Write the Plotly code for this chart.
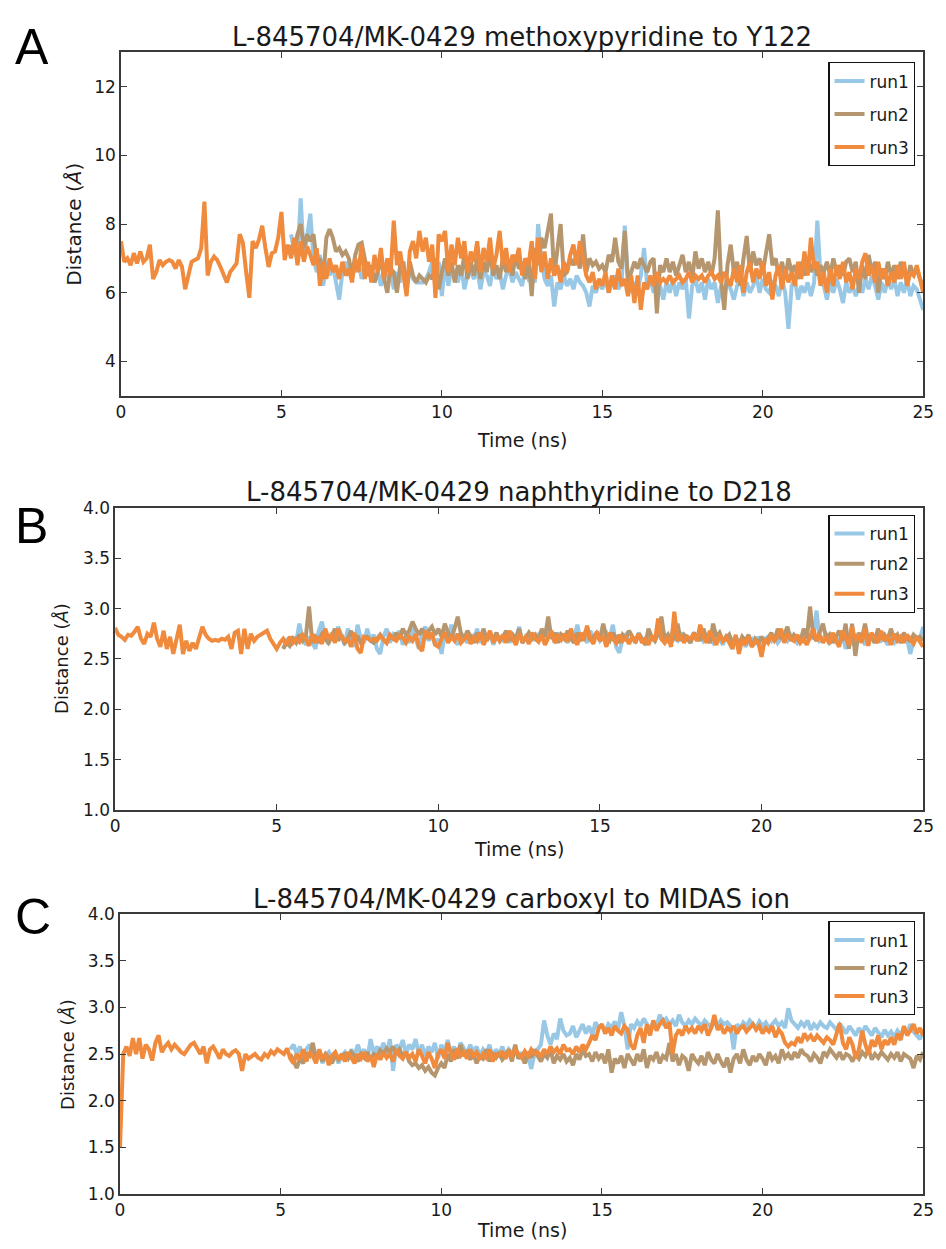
import numpy as np
import plotly.graph_objects as go

# ---------------- data ----------------
STEP = 0.1  # ns between frames
RUN_NAMES = ["run1", "run2", "run3"]
COLORS = ["#98c8e6", "#b5966e", "#f08a3c"]

TITLES = [
    "L-845704/MK-0429 methoxypyridine to Y122",
    "L-845704/MK-0429 naphthyridine to D218",
    "L-845704/MK-0429 carboxyl to MIDAS ion",
]
PANEL_LETTERS = ["A", "B", "C"]
X_TICKS = [0, 5, 10, 15, 20, 25]
Y_TICKS_A = [4, 6, 8, 10, 12]
Y_TICKS_BC = [1.0, 1.5, 2.0, 2.5, 3.0, 3.5, 4.0]

# start time of each run (ns)
START_A = [5.3, 5.3, 0.0]
START_B = [5.2, 5.2, 0.0]
START_C = [5.3, 5.3, 0.0]

# ---- Panel A ----
a_run1 = [7.7, 7.2, 7.0, 8.75, 7.0, 7.6, 8.3,
          7.0, 6.6, 7.1, 6.2, 6.9, 6.5, 6.8, 6.3, 5.8, 6.6,
          6.9, 6.5, 6.8, 6.6, 6.9, 6.4, 6.8, 6.5, 6.7, 6.3,
          6.6, 6.2, 6.8, 6.4, 6.7, 6.1, 6.6, 6.3, 6.8, 6.2,
          6.6, 6.4, 6.3, 6.3, 6.3, 6.4, 6.6, 6.9, 6.2, 6.9,
          5.9, 6.9, 6.2, 6.7, 6.5, 6.3, 6.8, 6.1, 6.5, 6.6,
          6.4, 6.7, 6.1, 6.6, 6.5, 6.2, 6.8, 6.4, 6.6, 6.1,
          6.5, 6.7, 6.3, 6.6, 6.4, 6.2, 6.7, 6.4, 6.5, 6.3,
          8.0, 7.0, 6.4, 6.2, 6.5, 5.6, 6.3, 6.1, 6.5, 6.2,
          6.4, 6.1, 6.5, 6.3, 6.2, 6.0, 5.6, 6.2, 6.0, 6.3,
          6.1, 6.4, 6.0, 6.3, 6.5, 6.1, 6.3, 7.95, 6.4, 6.0,
          6.3, 6.1, 6.5, 7.3, 6.2, 6.4, 6.0, 6.5, 6.2, 5.8,
          6.3, 6.0, 6.4, 5.9, 6.3, 6.1, 6.4, 5.25, 6.2, 6.4,
          6.0, 6.3, 5.8, 6.4, 6.1, 6.3, 5.7, 6.2, 6.0, 6.3,
          6.1, 5.8, 6.2, 6.4, 5.9, 6.3, 6.0, 6.2, 6.5, 6.0,
          6.4, 6.1, 6.0, 6.3, 6.2, 5.9, 6.4, 6.0, 4.95, 6.2,
          6.4, 5.8, 6.2, 6.0, 6.3, 5.9, 6.3, 8.1, 6.5, 6.2,
          5.8, 6.3, 6.0, 6.4, 6.1, 5.7, 6.3, 6.0, 6.2, 5.9,
          6.2, 6.0, 6.4, 6.1, 6.5, 6.2, 5.8, 6.3, 6.0, 6.4,
          6.1, 6.4, 5.9, 6.3, 6.0, 6.4, 5.9, 6.2, 6.1, 5.8,
          5.5]
a_run2 = [7.4, 7.2, 7.7, 8.0, 7.3, 7.7, 7.5,
          7.7, 6.9, 7.0, 6.4, 7.6, 7.85, 7.6, 7.2, 7.3, 7.1,
          7.2, 7.0, 6.5, 7.1, 7.4, 7.45, 7.0, 6.5, 6.8, 6.3,
          6.6, 7.0, 6.4, 6.0, 6.7, 6.6, 6.0, 6.8, 6.9, 6.0,
          6.9, 6.5, 6.3, 6.5, 6.4, 6.3, 6.5, 6.4, 7.0, 6.1,
          6.6, 7.0, 6.5, 6.9, 6.3, 6.8, 6.5, 7.1, 6.4, 6.9,
          6.5, 7.0, 6.4, 6.9, 6.6, 7.2, 6.5, 6.8, 6.4, 7.0,
          6.6, 6.9, 6.5, 7.1, 6.7, 6.8, 6.4, 7.0, 5.9, 7.3,
          6.8, 7.6, 7.3, 7.8, 8.3, 6.5, 7.2, 8.0, 6.5, 6.6,
          7.0, 6.8, 7.1, 6.7, 7.7, 6.6, 7.0, 6.8, 6.9, 6.7,
          6.8, 6.6, 7.1, 6.9, 7.6, 6.9, 6.7, 7.8, 6.3, 6.6,
          6.9, 6.7, 7.0, 6.8, 6.6, 6.9, 7.0, 5.4, 6.8, 6.6,
          7.0, 6.6, 6.9, 6.5, 6.8, 7.1, 6.6, 6.9, 6.4, 7.2,
          6.7, 7.0, 6.6, 6.9, 6.5, 7.0, 8.4, 6.4, 5.5, 6.8,
          7.4, 6.6, 6.9, 6.2, 7.0, 7.65, 6.6, 7.2, 6.8, 7.0,
          6.6, 7.2, 7.7, 6.8, 7.0, 6.5, 6.9, 6.4, 7.0, 6.6,
          6.8, 6.4, 6.9, 6.5, 7.0, 6.6, 6.9, 6.5, 6.8, 6.6,
          6.9, 6.5, 7.0, 6.6, 6.8, 6.5, 6.9, 7.0, 6.6, 6.9,
          6.0, 6.8, 6.4, 7.1, 6.6, 6.9, 6.0, 6.7, 6.4, 6.9,
          6.5, 6.8, 6.4, 6.9, 6.6, 6.3, 6.8, 6.5, 6.7, 6.4,
          6.2]
a_run3 = [7.5, 6.9, 7.0, 6.8, 7.15, 6.85, 7.2, 6.9, 7.0, 7.4,
          6.4, 6.6, 6.95, 6.8, 6.9, 6.95, 6.9, 6.7, 6.95, 6.75,
          6.1, 6.55, 6.9, 6.95, 7.0, 7.3, 8.65, 6.5, 6.9, 7.05,
          6.95, 6.75, 6.5, 6.3, 6.6, 6.75, 6.85, 7.7, 7.45, 6.6,
          5.85, 7.5, 7.3, 7.55, 7.95, 7.3, 6.75, 7.15, 7.2, 7.6,
          8.35, 6.95, 7.4, 7.0, 7.6, 6.8, 7.5, 6.9, 7.35, 7.1,
          6.8, 7.3, 6.2, 6.9, 6.4, 7.0, 6.6, 6.8, 6.4, 6.9,
          6.5, 6.7, 6.3, 7.0, 6.6, 7.4, 6.4, 6.9, 6.3, 7.1,
          6.6, 7.3, 6.4, 7.0, 6.5, 8.1, 6.8, 7.2, 6.6, 5.9,
          7.2, 7.5, 7.0, 7.8, 7.2, 7.6, 6.9, 7.4, 5.85, 7.7,
          7.5, 7.8, 6.6, 7.4, 6.8, 7.6, 7.0, 7.5, 6.6, 7.2,
          6.9, 7.5, 6.6, 7.3, 6.9, 7.6, 6.7, 7.1, 7.8, 6.8,
          7.3, 6.6, 7.1, 6.9, 7.3, 6.5, 7.0, 6.8, 7.5, 6.4,
          7.6, 6.6, 7.2, 6.4, 7.0, 6.5, 6.8, 6.3, 6.9, 6.6,
          7.1, 7.4, 6.8, 7.5, 7.0, 6.5, 6.3, 6.6, 6.1, 6.4,
          6.2, 6.6, 6.0, 6.5, 6.1, 6.7, 6.2, 6.4, 5.9, 6.5,
          5.7, 6.5, 5.5, 6.3, 6.1, 6.5, 6.2, 6.6, 6.3, 6.4,
          6.3, 6.5, 6.3, 6.4, 6.5, 6.3, 6.4, 6.6, 6.3, 6.5,
          6.4, 6.5, 6.3, 6.5, 6.6, 6.4, 6.5, 6.3, 6.6, 6.4,
          6.2, 6.7, 6.3, 6.8, 6.0, 6.6, 6.9, 6.3, 6.7, 6.4,
          6.9, 6.2, 6.6, 5.8, 6.5, 6.8, 6.1, 6.7, 6.3, 6.6,
          6.2, 6.9, 6.4, 7.2, 6.5, 7.6, 6.7, 6.9, 6.2, 6.6,
          6.0, 6.7, 6.2, 6.8, 6.4, 6.9, 6.3, 6.6, 6.1, 6.7,
          6.4, 6.9, 7.15, 6.5, 6.8, 6.3, 6.9, 6.4, 6.7, 6.2,
          6.6, 6.3, 6.8, 6.4, 6.9, 6.2, 6.6, 6.5, 6.8, 6.4,
          6.0]

# ---- Panel B ----
b_run1 = [2.6, 2.68, 2.64, 2.72, 2.66, 2.85, 2.7, 2.64,
          2.72, 2.66, 2.6, 2.78, 2.87, 2.7, 2.65, 2.76, 2.68, 2.82,
          2.72, 2.64, 2.8, 2.7, 2.62, 2.84, 2.7, 2.66, 2.8, 2.68,
          2.74, 2.6, 2.55, 2.72, 2.8, 2.66, 2.74, 2.7, 2.78, 2.64,
          2.72, 2.66, 2.8, 2.7, 2.6, 2.76, 2.82, 2.68, 2.74, 2.64,
          2.7, 2.55, 2.76, 2.68, 2.84, 2.7, 2.64, 2.76, 2.7, 2.66,
          2.74, 2.68, 2.8, 2.66, 2.72, 2.7, 2.76, 2.64, 2.72, 2.7,
          2.68, 2.76, 2.66, 2.74, 2.7, 2.82, 2.66, 2.72, 2.7, 2.76,
          2.68, 2.74, 2.7, 2.66, 2.8, 2.72, 2.68, 2.76, 2.7, 2.72,
          2.66, 2.74, 2.7, 2.84, 2.68, 2.72, 2.66, 2.78, 2.7, 2.74,
          2.68, 2.72, 2.76, 2.7, 2.84, 2.62, 2.56, 2.7, 2.74, 2.66,
          2.72, 2.68, 2.76, 2.7, 2.66, 2.74, 2.7, 2.68, 2.76, 2.7,
          2.72, 2.66, 2.74, 2.7, 2.68, 2.76, 2.7, 2.72, 2.66, 2.74,
          2.7, 2.76, 2.68, 2.72, 2.7, 2.66, 2.74, 2.7, 2.64, 2.72,
          2.68, 2.6, 2.72, 2.66, 2.7, 2.62, 2.68, 2.7, 2.64, 2.72,
          2.66, 2.7, 2.72, 2.68, 2.74, 2.66, 2.7, 2.72, 2.68, 2.74,
          2.7, 2.66, 2.72, 2.68, 2.74, 2.7, 2.72, 2.98, 2.68, 2.7,
          2.74, 2.66, 2.7, 2.72, 2.68, 2.74, 2.6, 2.7, 2.66, 2.72,
          2.68, 2.72, 2.64, 2.7, 2.74, 2.66, 2.72, 2.68, 2.7, 2.64,
          2.7, 2.66, 2.72, 2.68, 2.74, 2.7, 2.55, 2.68, 2.72, 2.7,
          2.82]
b_run2 = [2.6, 2.66, 2.63, 2.7, 2.66, 2.74, 2.68, 2.72,
          3.02, 2.66, 2.72, 2.68, 2.75, 2.7, 2.66, 2.72, 2.8, 2.68,
          2.74, 2.66, 2.7, 2.78, 2.68, 2.73, 2.66, 2.7, 2.72, 2.68,
          2.66, 2.7, 2.74, 2.69, 2.66, 2.72, 2.7, 2.76, 2.7, 2.8,
          2.74, 2.78, 2.87, 2.8, 2.74, 2.8, 2.72, 2.78, 2.82, 2.74,
          2.8, 2.72, 2.85, 2.76, 2.7, 2.8, 2.92, 2.75, 2.7, 2.78,
          2.72, 2.66, 2.76, 2.7, 2.8, 2.68, 2.74, 2.7, 2.76, 2.68,
          2.72, 2.78, 2.68, 2.74, 2.7, 2.8, 2.66, 2.72, 2.76, 2.7,
          2.74, 2.68, 2.8, 2.72, 2.92, 2.7, 2.76, 2.66, 2.74, 2.7,
          2.78, 2.7, 2.66, 2.76, 2.7, 2.74, 2.8, 2.68, 2.72, 2.76,
          2.7, 2.85, 2.72, 2.68, 2.76, 2.7, 2.66, 2.74, 2.7, 2.78,
          2.72, 2.66, 2.75, 2.7, 2.64, 2.8, 2.72, 2.68, 2.76, 2.92,
          2.7, 2.74, 2.66, 2.72, 2.85, 2.68, 2.74, 2.7, 2.66, 2.76,
          2.72, 2.68, 2.8, 2.7, 2.66, 2.85, 2.72, 2.76, 2.68, 2.7,
          2.74, 2.66, 2.7, 2.64, 2.72, 2.68, 2.74, 2.62, 2.7, 2.66,
          2.72, 2.66, 2.7, 2.76, 2.68, 2.8, 2.7, 2.74, 2.82, 2.68,
          2.74, 2.7, 2.66, 2.8, 2.7, 3.02, 2.72, 2.68, 2.76, 2.85,
          2.7, 2.74, 2.66, 2.72, 2.78, 2.68, 2.85, 2.6, 2.85, 2.53,
          2.76, 2.7, 2.85, 2.68, 2.72, 2.66, 2.8, 2.7, 2.74, 2.68,
          2.8, 2.7, 2.74, 2.66, 2.76, 2.7, 2.68, 2.74, 2.7, 2.72,
          2.68]
b_run3 = [2.81, 2.74, 2.72, 2.69, 2.74, 2.73, 2.77, 2.82, 2.7, 2.65,
          2.75, 2.72, 2.86, 2.7, 2.62, 2.78, 2.6, 2.72, 2.55, 2.7,
          2.84, 2.55, 2.68, 2.58, 2.66, 2.6, 2.7, 2.82, 2.74, 2.7,
          2.68, 2.69, 2.68, 2.7, 2.69, 2.72, 2.6, 2.76, 2.78, 2.55,
          2.8, 2.6, 2.75, 2.68, 2.72, 2.74, 2.76, 2.78, 2.7, 2.65,
          2.6, 2.66, 2.7, 2.64, 2.72, 2.66, 2.7, 2.67, 2.74, 2.7,
          2.63, 2.75, 2.66, 2.72, 2.65, 2.8, 2.7, 2.74, 2.66, 2.8,
          2.72, 2.68, 2.7, 2.62, 2.76, 2.6, 2.56, 2.72, 2.7, 2.69,
          2.7, 2.68, 2.73, 2.7, 2.66, 2.74, 2.7, 2.68, 2.73, 2.71,
          2.66, 2.72, 2.68, 2.75, 2.62, 2.58, 2.78, 2.7, 2.76, 2.64,
          2.62, 2.7, 2.76, 2.66, 2.72, 2.68, 2.75, 2.66, 2.7, 2.73,
          2.65, 2.72, 2.68, 2.76, 2.64, 2.7, 2.78, 2.66, 2.72, 2.68,
          2.74, 2.66, 2.78, 2.7, 2.64, 2.75, 2.68, 2.72, 2.65, 2.76,
          2.7, 2.67, 2.74, 2.64, 2.72, 2.78, 2.66, 2.73, 2.69, 2.75,
          2.67, 2.8, 2.7, 2.64, 2.76, 2.68, 2.83, 2.7, 2.65, 2.77,
          2.68, 2.73, 2.62, 2.76, 2.7, 2.66, 2.74, 2.68, 2.71, 2.65,
          2.72, 2.68, 2.75, 2.66, 2.7, 2.64, 2.73, 2.68, 2.9, 2.7,
          2.66, 2.72, 2.62, 2.97, 2.68, 2.74, 2.66, 2.72, 2.7, 2.75,
          2.68, 2.84, 2.72, 2.66, 2.78, 2.7, 2.64, 2.74, 2.68, 2.72,
          2.66, 2.6, 2.74, 2.55, 2.7, 2.64, 2.72, 2.62, 2.68, 2.66,
          2.52, 2.7, 2.66, 2.74, 2.68, 2.72, 2.8, 2.66, 2.75, 2.7,
          2.68, 2.74, 2.66, 2.7, 2.64, 2.72, 2.8, 2.68, 2.74, 2.66,
          2.72, 2.65, 2.76, 2.68, 2.62, 2.78, 2.7, 2.64, 2.82, 2.68,
          2.74, 2.66, 2.8, 2.63, 2.76, 2.7, 2.66, 2.78, 2.68, 2.72,
          2.64, 2.75, 2.68, 2.72, 2.66, 2.74, 2.7, 2.65, 2.72, 2.66,
          2.62]

# ---- Panel C ----
c_run1 = [2.55, 2.6, 2.5, 2.58, 2.45, 2.55, 2.6,
          2.5, 2.42, 2.55, 2.4, 2.48, 2.52, 2.45, 2.5, 2.4, 2.48,
          2.52, 2.45, 2.55, 2.48, 2.6, 2.5, 2.55, 2.45, 2.66, 2.5,
          2.58, 2.52, 2.62, 2.48, 2.66, 2.32, 2.6, 2.55, 2.65, 2.5,
          2.6, 2.55, 2.66, 2.5, 2.6, 2.48, 2.58, 2.52, 2.62, 2.45,
          2.6, 2.52, 2.65, 2.5, 2.58, 2.48, 2.62, 2.55, 2.5, 2.6,
          2.52, 2.58, 2.48, 2.55, 2.5, 2.6, 2.45, 2.55, 2.5, 2.58,
          2.48, 2.55, 2.5, 2.58, 2.45, 2.52, 2.4, 2.48, 2.34, 2.5,
          2.55, 2.6, 2.86, 2.7, 2.6, 2.72, 2.66, 2.88, 2.75, 2.7,
          2.72, 2.8, 2.68, 2.75, 2.82, 2.72, 2.8, 2.7, 2.84, 2.78,
          2.8, 2.74, 2.82, 2.78, 2.85, 2.76, 2.95, 2.8, 2.55, 2.82,
          2.78, 2.85, 2.8, 2.88, 2.82, 2.76, 2.85, 2.8, 2.92, 2.84,
          2.88, 2.82, 2.86, 2.8, 2.92, 2.84, 2.8, 2.86, 2.82, 2.88,
          2.84, 2.8, 2.86, 2.82, 2.78, 2.84, 2.8, 2.86, 2.82, 2.84,
          2.8, 2.55, 2.82, 2.78, 2.84, 2.8, 2.86, 2.82, 2.78, 2.85,
          2.8, 2.84, 2.78, 2.82, 2.86, 2.8, 2.84, 2.78, 2.99, 2.86,
          2.82, 2.78, 2.84, 2.8, 2.86, 2.76, 2.82, 2.78, 2.84, 2.8,
          2.78, 2.84, 2.8, 2.76, 2.82, 2.78, 2.72, 2.8, 2.75, 2.7,
          2.78, 2.72, 2.8, 2.74, 2.7, 2.78, 2.72, 2.68, 2.76, 2.7,
          2.74, 2.68, 2.75, 2.7, 2.78, 2.72, 2.82, 2.74, 2.7, 2.66,
          2.76]
c_run2 = [2.5, 2.42, 2.35, 2.45, 2.4, 2.5, 2.48,
          2.62, 2.45, 2.52, 2.42, 2.5, 2.46, 2.4, 2.5, 2.44, 2.48,
          2.5, 2.45, 2.52, 2.48, 2.42, 2.5, 2.46, 2.52, 2.44, 2.5,
          2.48, 2.54, 2.5, 2.56, 2.52, 2.58, 2.5, 2.55, 2.48, 2.52,
          2.42, 2.38, 2.4, 2.35, 2.38, 2.32, 2.36, 2.3, 2.27, 2.35,
          2.4, 2.35, 2.5, 2.42, 2.55, 2.45, 2.6, 2.48, 2.52, 2.44,
          2.5, 2.4, 2.48, 2.45, 2.55, 2.42, 2.5, 2.46, 2.52, 2.44,
          2.48, 2.55, 2.42, 2.6, 2.45, 2.5, 2.4, 2.52, 2.46, 2.55,
          2.48, 2.42, 2.5, 2.46, 2.55, 2.4, 2.48, 2.44, 2.5, 2.42,
          2.46, 2.38, 2.5, 2.44, 2.55, 2.48, 2.5, 2.42, 2.52, 2.45,
          2.5, 2.4, 2.55, 2.3, 2.45, 2.4, 2.48, 2.35, 2.5, 2.44,
          2.38, 2.5, 2.42, 2.55, 2.35, 2.48, 2.44, 2.52, 2.4, 2.48,
          2.45, 2.62, 2.42, 2.5, 2.38, 2.48, 2.45, 2.32, 2.5, 2.44,
          2.4, 2.48, 2.38, 2.52, 2.44, 2.4, 2.5, 2.42, 2.36, 2.46,
          2.3, 2.45, 2.5, 2.4, 2.55, 2.44, 2.38, 2.48, 2.42, 2.5,
          2.45, 2.38, 2.52, 2.44, 2.48, 2.4, 2.55, 2.46, 2.5, 2.44,
          2.52, 2.46, 2.55, 2.5, 2.48, 2.42, 2.5, 2.46, 2.4, 2.52,
          2.48, 2.55, 2.5, 2.46, 2.52, 2.44, 2.5, 2.48, 2.42, 2.5,
          2.45, 2.52, 2.48, 2.55, 2.44, 2.5, 2.46, 2.52, 2.48, 2.44,
          2.5, 2.46, 2.52, 2.42, 2.5, 2.48, 2.45, 2.35, 2.48, 2.44,
          2.52]
c_run3 = [1.5, 2.5, 2.58, 2.48, 2.67, 2.5, 2.67, 2.45, 2.6, 2.55,
          2.43, 2.62, 2.7, 2.52, 2.58, 2.62, 2.55, 2.6, 2.56, 2.52,
          2.5, 2.55, 2.6, 2.62, 2.55, 2.5, 2.58, 2.4, 2.55, 2.58,
          2.52, 2.45, 2.55, 2.5, 2.48, 2.52, 2.54, 2.5, 2.32, 2.5,
          2.45, 2.48, 2.5, 2.46, 2.44, 2.5, 2.47, 2.53, 2.5, 2.55,
          2.52, 2.5, 2.56, 2.45, 2.4, 2.5, 2.44, 2.55, 2.42, 2.52,
          2.48, 2.4, 2.55, 2.45, 2.5, 2.38, 2.48, 2.52, 2.44, 2.5,
          2.42, 2.52, 2.46, 2.4, 2.5, 2.45, 2.52, 2.42, 2.48, 2.36,
          2.5, 2.44, 2.52, 2.46, 2.5, 2.42, 2.55, 2.48, 2.45, 2.52,
          2.46, 2.5, 2.42, 2.55, 2.48, 2.4, 2.52, 2.45, 2.35, 2.5,
          2.55, 2.45, 2.62, 2.5, 2.44, 2.56, 2.48, 2.52, 2.45, 2.55,
          2.48, 2.52, 2.44, 2.5, 2.46, 2.55, 2.42, 2.5, 2.48, 2.53,
          2.45, 2.52, 2.48, 2.55, 2.5, 2.46, 2.53, 2.48, 2.55, 2.5,
          2.52, 2.47, 2.55, 2.5, 2.58, 2.52, 2.56, 2.5, 2.6, 2.54,
          2.55, 2.5, 2.58, 2.52, 2.6, 2.55, 2.62, 2.7, 2.65, 2.78,
          2.82, 2.72, 2.78, 2.7, 2.8, 2.75, 2.72, 2.8, 2.76, 2.6,
          2.55, 2.7, 2.78, 2.62, 2.82, 2.7, 2.86, 2.75, 2.82, 2.86,
          2.78, 2.84, 2.5, 2.7, 2.76, 2.7, 2.8, 2.74, 2.78, 2.72,
          2.8, 2.75, 2.82, 2.7, 2.78, 2.92, 2.76, 2.8, 2.72, 2.78,
          2.75, 2.8, 2.72, 2.78, 2.8, 2.74, 2.78, 2.82, 2.76, 2.8,
          2.72, 2.78, 2.74, 2.8, 2.68, 2.76, 2.72, 2.62, 2.58, 2.62,
          2.6, 2.68, 2.62, 2.72, 2.66, 2.7, 2.64, 2.7, 2.66, 2.62,
          2.68, 2.65, 2.6, 2.72, 2.83, 2.62, 2.55, 2.68, 2.6, 2.45,
          2.55, 2.75, 2.6, 2.5, 2.65, 2.58, 2.7, 2.55, 2.65, 2.6,
          2.68, 2.6, 2.72, 2.65, 2.8, 2.7, 2.75, 2.82, 2.72, 2.78,
          2.7]

PANELS = [
    dict(runs=[a_run1, a_run2, a_run3], starts=START_A, yrange=[3, 13], yticks=Y_TICKS_A, yfmt="d"),
    dict(runs=[b_run1, b_run2, b_run3], starts=START_B, yrange=[1, 4], yticks=Y_TICKS_BC, yfmt=".1f"),
    dict(runs=[c_run1, c_run2, c_run3], starts=START_C, yrange=[1, 4], yticks=Y_TICKS_BC, yfmt=".1f"),
]

# ---------------- layout geometry (pixels of a 946 x 1249 page) ----------------
W, H = 946, 1249
X_DOMAINS_PX = [(118, 934), (112, 934), (117, 934)]
Y_DOMAINS_PX = [(43, 392), (506, 813), (919, 1203)]
TITLE_Y_PX = [27, 490, 903]
XLABEL_Y_PX = [437, 853, 1240]
YLABEL_X_PX = [70, 58, 63]
YLABEL_SIZE = [20, 18, 18]
LETTER_POS_PX = [(27, 38), (27, 524), (28, 922)]
LEGEND_TOP_PX = [53, 513, 926]
LEGEND_GAP = [8, 5, 3]

FONT = "DejaVu Sans"
TEXT_COLOR = "#1a1a1a"
FRAME_COLOR = "#3a3a3a"


def px_x(x):
    return x / W


def px_y(y):
    return 1 - y / H


fig = go.Figure()
layout = dict(
    width=W, height=H,
    margin=dict(l=0, r=0, t=0, b=0),
    paper_bgcolor="white", plot_bgcolor="white",
    font=dict(family=FONT, size=17, color=TEXT_COLOR),
    showlegend=True,
    annotations=[],
)

for p, panel in enumerate(PANELS):
    sfx = "" if p == 0 else str(p + 1)
    xa, ya = "x" + sfx, "y" + sfx
    leg = "legend" + sfx
    for r, vals in enumerate(panel["runs"]):
        t = np.round(panel["starts"][r] + STEP * np.arange(len(vals)), 3)
        fig.add_trace(go.Scatter(
            x=t, y=vals, mode="lines", name=RUN_NAMES[r],
            line=dict(color=COLORS[r], width=4),
            xaxis=xa, yaxis=ya, legend=leg,
            legendgroup=f"{p}-{r}",
        ))
    x0, x1 = X_DOMAINS_PX[p]
    yt, yb = Y_DOMAINS_PX[p]
    axis_common = dict(
        showline=True, linecolor=FRAME_COLOR, linewidth=1.5, mirror="ticks",
        ticks="inside", ticklen=6, tickwidth=1.2, tickcolor=FRAME_COLOR,
        showgrid=False, zeroline=False, ticklabeloverflow="allow",
        tickfont=dict(family=FONT, size=17, color=TEXT_COLOR),
    )
    layout["xaxis" + sfx] = dict(
        axis_common, domain=[px_x(x0), px_x(x1)], range=[0, 25],
        tickmode="array", tickvals=X_TICKS, anchor=ya,
    )
    layout["yaxis" + sfx] = dict(
        axis_common, domain=[px_y(yb), px_y(yt)], range=panel["yrange"],
        tickmode="array", tickvals=panel["yticks"],
        ticktext=[format(v, panel["yfmt"]) if panel["yfmt"] != "d" else str(int(v)) for v in panel["yticks"]],
        anchor=xa,
    )
    layout[leg] = dict(
        x=px_x(926), y=px_y(LEGEND_TOP_PX[p]), xanchor="right", yanchor="top",
        bgcolor="white", bordercolor="#111111", borderwidth=1.2,
        font=dict(family=FONT, size=17, color=TEXT_COLOR),
        traceorder="grouped", tracegroupgap=LEGEND_GAP[p],
    )
    cx = px_x((x0 + x1) / 2)
    layout["annotations"] += [
        dict(text=TITLES[p], x=cx, y=px_y(TITLE_Y_PX[p]), xref="paper", yref="paper",
             xanchor="center", yanchor="middle", showarrow=False,
             font=dict(family=FONT, size=26, color=TEXT_COLOR)),
        dict(text="Time (ns)", x=cx, y=px_y(XLABEL_Y_PX[p]), xref="paper", yref="paper",
             xanchor="center", yanchor="middle", showarrow=False,
             font=dict(family=FONT, size=19, color=TEXT_COLOR)),
        dict(text="Distance (<i>Å</i>)", x=px_x(YLABEL_X_PX[p]), y=px_y((yt + yb) / 2),
             xref="paper", yref="paper", xanchor="center", yanchor="middle",
             textangle=-90, showarrow=False,
             font=dict(family=FONT, size=YLABEL_SIZE[p], color=TEXT_COLOR)),
        dict(text=PANEL_LETTERS[p], x=px_x(LETTER_POS_PX[p][0]), y=px_y(LETTER_POS_PX[p][1]),
             xref="paper", yref="paper", xanchor="center", yanchor="middle", showarrow=False,
             font=dict(family="Liberation Sans", size=50, color="black")),
    ]

fig.update_layout(**layout)
# remove the browser's default 8px body margin so the figure fills the window exactly
fig.write_html(
    "out.html",
    config={"displayModeBar": False},
    post_script="document.body.style.margin='0';document.body.style.overflow='hidden';",
)
